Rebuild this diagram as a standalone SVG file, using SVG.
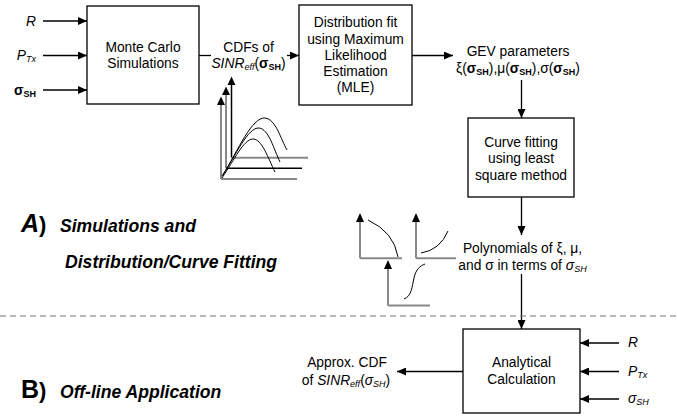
<svg xmlns="http://www.w3.org/2000/svg" width="677" height="416" viewBox="0 0 677 416">
<defs>
<marker id="ah" markerUnits="userSpaceOnUse" markerWidth="10" markerHeight="8" refX="9" refY="4" orient="auto">
<path d="M0,0 L9,4 L0,8 Z" fill="#000"/>
</marker>
<style>
text{font-family:"Liberation Sans",Arial,sans-serif;font-size:13.8px;fill:#000}
.c{text-anchor:middle}
.e{text-anchor:end}
.i{font-style:italic}
.b{font-weight:bold}
.sub{font-size:9px}
.box{fill:#fff;stroke:#000;stroke-width:1.3}
.ln{fill:none;stroke:#000;stroke-width:1.3}
.arr{fill:none;stroke:#000;stroke-width:1.3;marker-end:url(#ah)}
.gax{fill:none;stroke:#888;stroke-width:2}
.kax{fill:none;stroke:#000;stroke-width:1.5}
.cv{fill:none;stroke:#000;stroke-width:1}
.tip{fill:#000}
.lab{font-weight:bold;font-style:italic;font-size:17.6px}
</style>
</defs>

<g id="connectors">
<line class="arr" x1="43" y1="21" x2="87" y2="21"/>
<line class="arr" x1="43" y1="55.5" x2="87" y2="55.5"/>
<line class="arr" x1="43" y1="90" x2="87" y2="90"/>
<line class="ln" x1="199" y1="55.5" x2="211" y2="55.5"/>
<line class="arr" x1="287" y1="55.5" x2="299" y2="55.5"/>
<line class="arr" x1="412" y1="55.5" x2="453" y2="55.5"/>
<line class="arr" x1="521.5" y1="80" x2="521.5" y2="118"/>
<line class="arr" x1="521.5" y1="197" x2="521.5" y2="235"/>
<line class="arr" x1="521.5" y1="274" x2="521.5" y2="329"/>
<line class="arr" x1="619" y1="343" x2="580" y2="343"/>
<line class="arr" x1="619" y1="371.5" x2="580" y2="371.5"/>
<line class="arr" x1="619" y1="399" x2="580" y2="399"/>
<line class="arr" x1="463" y1="371.5" x2="397" y2="371.5"/>
</g>

<line x1="0" y1="316" x2="677" y2="316" stroke="#777" stroke-width="1.2" stroke-dasharray="6,4"/>

<g id="inputs-top">
<text class="e i" x="36" y="25.5">R</text>
<text class="e i" x="36" y="60"><tspan>P</tspan><tspan class="sub" dy="2">Tx</tspan></text>
<text class="e b" x="36" y="94.5"><tspan>σ</tspan><tspan class="sub" dy="2">SH</tspan></text>
</g>

<g id="monte-carlo">
<rect class="box" x="87" y="6" width="112" height="98"/>
<text class="c" x="143" y="52">Monte Carlo</text>
<text class="c" x="143" y="68.3">Simulations</text>
</g>

<g id="cdfs">
<text class="c" x="248.5" y="51.7">CDFs of</text>
<text class="c" x="248.5" y="68"><tspan class="i">SINR</tspan><tspan class="i sub" dy="2">eff</tspan><tspan dy="-2">(</tspan><tspan class="b">σ</tspan><tspan class="b sub" dy="2">SH</tspan><tspan dy="-2">)</tspan></text>
</g>

<g id="cdf-plot">
<line class="kax" x1="231.5" y1="84" x2="231.5" y2="157.7"/>
<path class="tip" d="M227.5,85 L231.5,76.5 L235.5,85 Z"/>
<line class="gax" x1="231.5" y1="157.7" x2="308" y2="157.7"/>
<line class="gax" x1="226" y1="94" x2="226" y2="168.3"/>
<path class="tip" d="M222,95 L226,86.5 L230,95 Z"/>
<line class="kax" x1="226" y1="168.3" x2="302" y2="168.3"/>
<line class="gax" x1="221" y1="104" x2="221" y2="179"/>
<path class="tip" d="M217,105 L221,96.5 L225,105 Z"/>
<line class="gax" x1="221" y1="179" x2="297" y2="179"/>
<path class="cv" d="M223,175 C238,150 252,117 265,118 C276,119 281,140 287,150"/>
<path class="cv" d="M222,176 C236,155 248,127 259,128 C269,129 274,150 280,162"/>
<path class="cv" d="M222,178 C234,160 244,139 253,139 C262,139 268,158 275,172"/>
</g>

<g id="distribution-fit">
<rect class="box" x="299" y="5" width="113" height="100"/>
<text class="c" x="355.5" y="27">Distribution fit</text>
<text class="c" x="355.5" y="43.5">using Maximum</text>
<text class="c" x="355.5" y="60">Likelihood</text>
<text class="c" x="355.5" y="76">Estimation</text>
<text class="c" x="355.5" y="92">(MLE)</text>
</g>

<g id="gev">
<text class="c" x="518" y="56">GEV parameters</text>
<text class="c" x="518" y="72.5"><tspan>ξ(</tspan><tspan class="b">σ</tspan><tspan class="b sub" dy="2">SH</tspan><tspan dy="-2">),μ(</tspan><tspan class="b">σ</tspan><tspan class="b sub" dy="2">SH</tspan><tspan dy="-2">),σ(</tspan><tspan class="b">σ</tspan><tspan class="b sub" dy="2">SH</tspan><tspan dy="-2">)</tspan></text>
</g>

<g id="curve-fitting">
<rect class="box" x="468" y="118" width="106" height="79"/>
<text class="c" x="521" y="147">Curve fitting</text>
<text class="c" x="521" y="163.3">using least</text>
<text class="c" x="521" y="179.6">square method</text>
</g>

<g id="poly-plots">
<line class="gax" x1="360" y1="221" x2="360" y2="258.3"/>
<path class="tip" d="M356,222 L360,213 L364,222 Z"/>
<line class="gax" x1="360" y1="258.3" x2="402" y2="258.3"/>
<path class="cv" d="M368,220 Q394,232 398,257"/>
<line class="gax" x1="416" y1="221" x2="416" y2="258.3"/>
<path class="tip" d="M412,222 L416,213 L420,222 Z"/>
<line class="gax" x1="416" y1="258.3" x2="456" y2="258.3"/>
<path class="cv" d="M421,253 Q440,250 448,231"/>
<line class="gax" x1="388" y1="268" x2="388" y2="305.5"/>
<path class="tip" d="M384,269 L388,260 L392,269 Z"/>
<line class="gax" x1="388" y1="305.5" x2="430" y2="305.5"/>
<path class="cv" d="M404,299 C412,296 412,286 414,278 C416,269 420,266 425,264"/>
</g>

<g id="polynomials">
<text class="c" x="522.5" y="253">Polynomials of ξ, μ,</text>
<text class="c" x="522.5" y="270"><tspan>and σ in terms of </tspan><tspan class="i">σ</tspan><tspan class="i sub" dy="2">SH</tspan></text>
</g>

<g id="analytical">
<rect class="box" x="463" y="329" width="117" height="84"/>
<text class="c" x="521.5" y="366.7">Analytical</text>
<text class="c" x="521.5" y="384">Calculation</text>
</g>

<g id="inputs-bottom">
<text class="i" x="628" y="347">R</text>
<text class="i" x="628" y="375.7"><tspan>P</tspan><tspan class="sub" dy="2">Tx</tspan></text>
<text class="i" x="628" y="403"><tspan>σ</tspan><tspan class="sub" dy="2">SH</tspan></text>
</g>

<g id="approx-cdf">
<text class="c" x="347" y="366.7">Approx. CDF</text>
<text class="c" x="346" y="385"><tspan>of </tspan><tspan class="i">SINR</tspan><tspan class="i sub" dy="2">eff</tspan><tspan dy="-2">(</tspan><tspan class="i">σ</tspan><tspan class="i sub" dy="2">SH</tspan><tspan dy="-2">)</tspan></text>
</g>

<g id="labels">
<text x="21" y="232"><tspan class="b i" font-size="25px">A</tspan><tspan class="b" font-size="22px">)</tspan></text>
<text class="lab" x="60" y="232">Simulations and</text>
<text class="lab" x="65" y="268" font-size="16.8px">Distribution/Curve Fitting</text>
<text x="21" y="398"><tspan class="b" font-size="25px">B</tspan><tspan class="b" font-size="22px">)</tspan></text>
<text class="lab" x="60" y="398">Off-line Application</text>
</g>
</svg>
